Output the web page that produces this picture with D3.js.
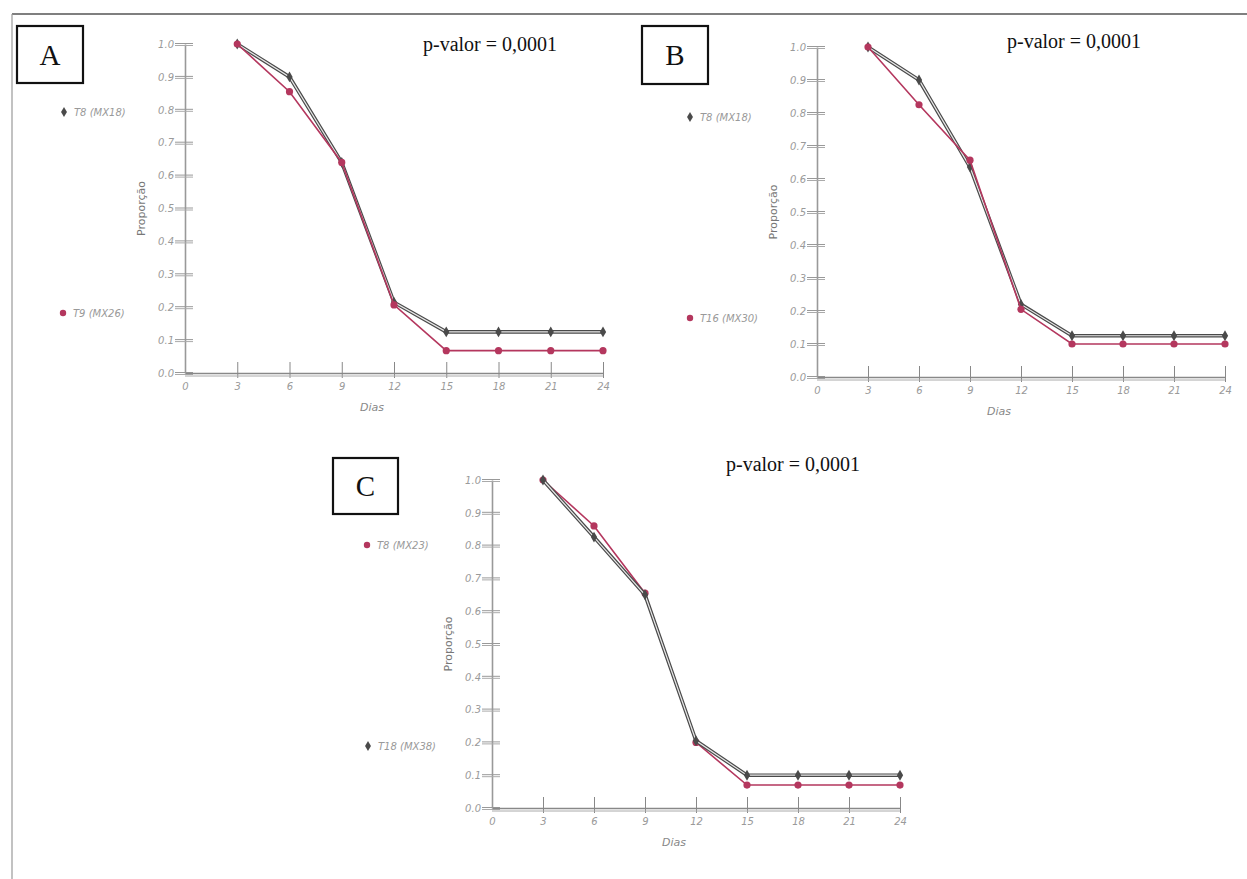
<!DOCTYPE html>
<html>
<head>
<meta charset="utf-8">
<script src="https://cdn.jsdelivr.net/npm/d3@7"></script>
<style>
  body { margin: 0; background: #fff; }
  svg { display: block; }
  .tick text { font-family: "DejaVu Sans", sans-serif; font-style: italic; fill: #9a9a9a; font-size: 10px; }
</style>
</head>
<body>
<div id="screen"></div>
<script>
var width = 1247;
var height = 879;

// data
var days = [3, 6, 9, 12, 15, 18, 21, 24];
var xTicks = [0, 3, 6, 9, 12, 15, 18, 21, 24];
var yTicks = [0, 0.1, 0.2, 0.3, 0.4, 0.5, 0.6, 0.7, 0.8, 0.9, 1.0];

var aBlack = [1.0, 0.90, 0.64, 0.215, 0.125, 0.125, 0.125, 0.125];
var aRed   = [1.0, 0.855, 0.64, 0.207, 0.068, 0.068, 0.068, 0.068];
var bBlack = [1.0, 0.90, 0.636, 0.22, 0.125, 0.125, 0.125, 0.125];
var bRed   = [1.0, 0.825, 0.657, 0.205, 0.10, 0.10, 0.10, 0.10];
var cBlack = [1.0, 0.826, 0.65, 0.205, 0.10, 0.10, 0.10, 0.10];
var cRed   = [1.0, 0.86, 0.655, 0.20, 0.07, 0.07, 0.07, 0.07];

var panelLetters = ["A", "B", "C"];
var blackNames = ["T8 (MX18)", "T8 (MX18)", "T18 (MX38)"];
var redNames = ["T9 (MX26)", "T16 (MX30)", "T8 (MX23)"];
var pLabel = "p-valor = 0,0001";

var blackCol = "#4a4a4a";
var redCol = "#b4375e";

// layout of each panel (plot area + decorations)
var panels = [
  {x0: 185, x1: 603, top: 44, bottom: 373, black: aBlack, red: aRed,
   box: [17, 26, 66, 57], pv: [490, 51], legBlack: [64, 112], legRed: [63, 313], redFirst: false},
  {x0: 817, x1: 1225, top: 47, bottom: 377, black: bBlack, red: bRed,
   box: [642, 26, 66, 58], pv: [1074, 48], legBlack: [690, 117], legRed: [690, 318], redFirst: false},
  {x0: 492, x1: 900, top: 480, bottom: 808, black: cBlack, red: cRed,
   box: [333, 458, 65, 56], pv: [793, 471], legBlack: [368, 746], legRed: [367, 545], redFirst: true}
];

var svg = d3.select("#screen").append("svg")
  .attr("width", width).attr("height", height);

// page frame
svg.append("line").attr("x1", 12).attr("y1", 14).attr("x2", width).attr("y2", 14)
  .attr("stroke", "#555").attr("stroke-width", 1.5);
svg.append("line").attr("x1", 12).attr("y1", 14).attr("x2", 12).attr("y2", height)
  .attr("stroke", "#999").attr("stroke-width", 1.2);

var drawPanel = function (p, i){
  var x = d3.scaleLinear().domain([0, 24]).range([p.x0, p.x1]);
  var y = d3.scaleLinear().domain([0, 1]).range([p.bottom, p.top]);
  var g = svg.append("g");

  // letter box
  g.append("rect").attr("x", p.box[0]).attr("y", p.box[1])
    .attr("width", p.box[2]).attr("height", p.box[3])
    .attr("fill", "none").attr("stroke", "#111").attr("stroke-width", 2.2);
  g.append("text").attr("x", p.box[0] + p.box[2] / 2).attr("y", p.box[1] + p.box[3] / 2 + 10)
    .attr("text-anchor", "middle")
    .style("font-family", "'Liberation Serif', serif").style("font-size", "29px").style("fill", "#111")
    .text(panelLetters[i]);

  // p-value
  g.append("text").attr("x", p.pv[0]).attr("y", p.pv[1])
    .attr("text-anchor", "middle")
    .style("font-family", "'Liberation Serif', serif").style("font-size", "20px").style("fill", "#111")
    .text(pLabel);

  // y axis
  var yAxis = g.append("g").attr("transform", "translate(" + p.x0 + ",0)")
    .call(d3.axisLeft(y).tickValues(yTicks).tickFormat(d3.format(".1f")).tickSize(8).tickSizeOuter(0));
  yAxis.select(".domain").attr("stroke", "#999").attr("stroke-width", 1.6);
  yAxis.selectAll(".tick line").attr("x1", 8).attr("x2", -10).attr("stroke", "#999")
    .attr("transform", "translate(0,-1)");
  yAxis.selectAll(".tick").append("line").attr("x1", 8).attr("x2", -10)
    .attr("y1", 1).attr("y2", 1).attr("stroke", "#aaa");
  yAxis.selectAll(".tick text").attr("x", -11);

  // x axis
  var xAxis = g.append("g").attr("transform", "translate(0," + p.bottom + ")")
    .call(d3.axisBottom(x).tickValues(xTicks).tickSize(6).tickSizeOuter(0));
  xAxis.select(".domain").attr("stroke", "#888").attr("stroke-width", 1.3);
  xAxis.append("line").attr("x1", p.x0).attr("x2", p.x1).attr("y1", 3).attr("y2", 3)
    .attr("stroke", "#aaa").attr("stroke-width", 1);
  xAxis.selectAll(".tick line").attr("y1", 5).attr("y2", -11).attr("stroke", "#888");
  xAxis.selectAll(".tick").filter(function(d){ return d === 0; }).select("line").remove();
  xAxis.selectAll(".tick text").attr("y", 10);

  // axis titles
  g.append("text").attr("transform", "translate(" + (p.x0 - 40) + "," + ((p.top + p.bottom) / 2) + ") rotate(-90)")
    .attr("text-anchor", "middle")
    .style("font-family", "'DejaVu Sans', sans-serif").style("font-size", "11px").style("fill", "#777")
    .text("Proporção");
  g.append("text").attr("x", (p.x0 + p.x1) / 2 - 22).attr("y", p.bottom + 38)
    .attr("text-anchor", "middle")
    .style("font-family", "'DejaVu Sans', sans-serif").style("font-style", "italic")
    .style("font-size", "11px").style("fill", "#888")
    .text("Dias");

  var line = d3.line().x(function(d, j){ return x(days[j]); }).y(function(d){ return y(d); });

  var drawBlack = function(){
    g.append("path").datum(p.black).attr("d", line)
      .attr("fill", "none").attr("stroke", blackCol).attr("stroke-width", 3.6);
    g.append("path").datum(p.black).attr("d", line)
      .attr("fill", "none").attr("stroke", "#e8e8e8").attr("stroke-width", 1.2);
    g.selectAll(null).data(p.black).enter().append("path")
      .attr("d", d3.symbol().type(d3.symbolDiamond).size(34))
      .attr("transform", function(d, j){ return "translate(" + x(days[j]) + "," + y(d) + ")"; })
      .attr("fill", blackCol);
  };
  var drawRed = function(){
    g.append("path").datum(p.red).attr("d", line)
      .attr("fill", "none").attr("stroke", redCol).attr("stroke-width", 1.6);
    g.selectAll(null).data(p.red).enter().append("circle")
      .attr("cx", function(d, j){ return x(days[j]); })
      .attr("cy", function(d){ return y(d); })
      .attr("r", 3.6).attr("fill", redCol);
  };
  if(p.redFirst){ drawRed(); drawBlack(); }
  else { drawBlack(); drawRed(); }

  // legend
  g.append("path").attr("d", d3.symbol().type(d3.symbolDiamond).size(30))
    .attr("transform", "translate(" + p.legBlack[0] + "," + p.legBlack[1] + ")").attr("fill", blackCol);
  g.append("text").attr("x", p.legBlack[0] + 10).attr("y", p.legBlack[1] + 4)
    .style("font-family", "'DejaVu Sans', sans-serif").style("font-style", "italic")
    .style("font-size", "10px").style("fill", "#999").text(blackNames[i]);
  g.append("circle").attr("cx", p.legRed[0]).attr("cy", p.legRed[1]).attr("r", 3.2).attr("fill", redCol);
  g.append("text").attr("x", p.legRed[0] + 10).attr("y", p.legRed[1] + 4)
    .style("font-family", "'DejaVu Sans', sans-serif").style("font-style", "italic")
    .style("font-size", "10px").style("fill", "#999").text(redNames[i]);
};

panels.forEach(drawPanel);
</script>
</body>
</html>
